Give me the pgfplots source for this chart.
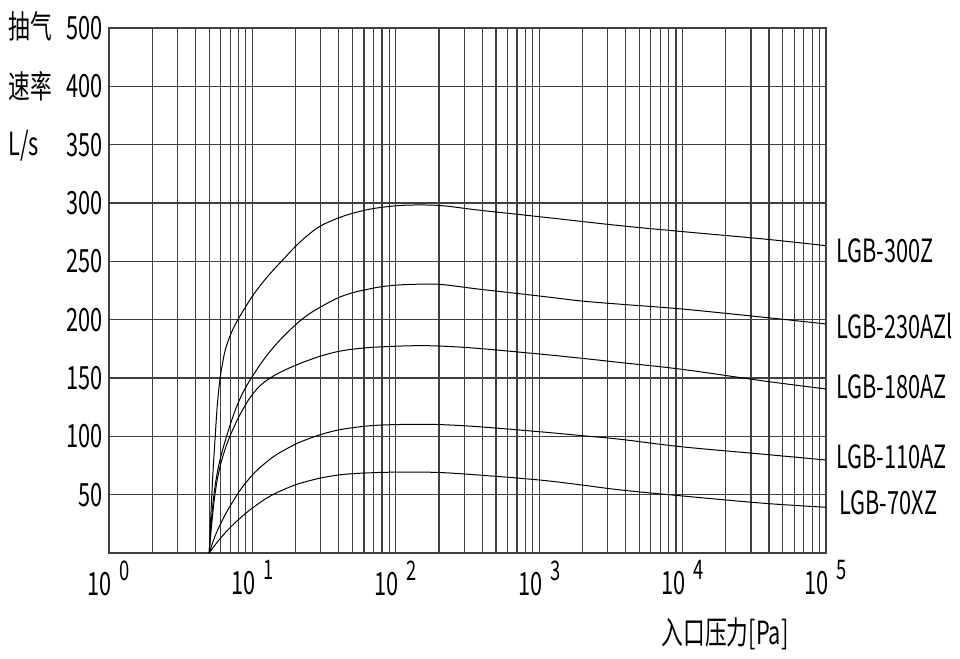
\documentclass[border=0pt]{standalone}
\usepackage{fontspec}
\setmainfont{Noto Sans CJK SC}[FakeStretch=0.68]
\usepackage{pgfplots}
\pgfplotsset{compat=1.18}
\pgfplotsset{curve/.style={black, line width=0.5pt, mark=none, smooth, tension=0.6}}
\newcommand{\tl}[1]{10\hspace{4pt}\raisebox{7.5pt}{\fontsize{13.5}{14}\selectfont #1}}
\begin{document}
\fontsize{16}{18}\selectfont
\begin{tikzpicture}
\useasboundingbox (-54.5pt,-53pt) rectangle (425.5pt,276.5pt);
\begin{axis}[
  at={(0pt,0pt)}, anchor=south west,
  width=358.5pt, height=262.5pt, scale only axis,
  xmode=log, log basis x=10,
  xmin=1, xmax=100000, ymin=0, ymax=450,
  xtick={1,10,100,1000,10000,100000},
  xticklabels={\tl{0},\tl{1},\tl{2},\tl{3},\tl{4},\tl{5}},
  minor xtick={2,3,4,5,6,7,8,9,20,30,40,50,60,70,80,90,200,300,400,500,600,700,800,900,2000,3000,4000,5000,6000,7000,8000,9000,20000,30000,40000,50000,60000,70000,80000,90000},
  ytick={50,100,150,200,250,300,350,400,450},
  yticklabels={50,100,150,200,250,300,350,400,500},
  xmajorgrids, xminorgrids, ymajorgrids,
  major tick length=0pt, minor tick length=0pt,
  grid style={black!75, line width=0.6pt},
  minor grid style={black!75, line width=0.6pt},
  major grid style={black!75, line width=0.6pt},
  axis line style={black!75, line width=0.6pt},
  tick label style={font=\fontsize{16}{18}\selectfont},
  yticklabel style={anchor=east, inner sep=0pt, xshift=-3pt},
  xticklabel style={anchor=north, inner sep=0pt, yshift=-3.5pt},
  clip=false,
]
% LGB-300Z
\addplot[curve] coordinates {
 (5,0) (5.163,39.4) (5.332,72.9) (5.506,100) (5.686,126) (5.919,147.4)
 (6.162,161.1) (6.466,174) (6.896,184.3) (7.354,192.4) (7.927,200)
 (8.771,209.1) (10.297,222.4) (12.691,236.6) (15.938,250) (20.442,264)
 (24.904,273.4) (30.052,280.5) (38.861,286.7) (50,291.2) (65.28,294.6)
 (80.03,296.3) (102.97,297.7) (136.6,298.3) (209.8,297.7) (372.5,294)
 (996.8,288.3) (3719,280.5) (9952,275.5) (37130,269.1) (100000,263.4)};
% LGB-230AZ
\addplot[curve] coordinates {
 (5,0) (5.163,25.7) (5.392,50) (5.686,68.6) (6.063,84) (6.720,102.9)
 (7.470,120) (8.359,134.6) (9.353,145.7) (10.464,155.1) (11.656,163.7)
 (13.528,174) (16.067,184.3) (20.442,196.7) (24.904,204.9) (30.052,211)
 (38.861,218.3) (50,223.1) (65.28,226.3) (80.03,228.3) (102.97,229.7)
 (145.68,230.4) (209.8,230.1) (372.5,226.3) (996.8,220.3) (1979,216)
 (3719,213.2) (9952,209.1) (37130,202) (100000,196.3)};
% LGB-180AZ
\addplot[curve] coordinates {
 (5,0) (5.163,20.6) (5.480,50) (5.871,71.1) (6.362,86.6) (6.938,99.4)
 (7.839,114) (8.771,125.1) (9.658,133.3) (11.161,142.7) (13.313,150)
 (16.067,155.6) (20.442,161.4) (24.904,165.4) (30.052,168.9) (38.861,172.5)
 (50,174.7) (65.28,176.1) (80.03,176.7) (102.97,177.3) (145.68,177.7)
 (209.8,177.3) (372.5,175.4) (996.8,170.6) (1979,166.9) (3719,163.2)
 (9952,157.4) (37130,147.4) (100000,140.6)};
% LGB-110AZ
\addplot[curve] coordinates {
 (5,0) (5.332,10.3) (5.686,18.9) (6.131,27.4) (6.677,36) (7.351,44.6)
 (8.094,52.7) (9.204,61.7) (10.464,69.4) (12.290,77.1) (14.426,83.6)
 (17.218,89.1) (20.442,93.9) (24.904,98.1) (30.052,101.6) (38.861,105.2)
 (50,107.4) (65.28,109) (80.03,109.7) (102.97,110.1) (145.68,110.3)
 (209.8,110) (372.5,108.3) (996.8,104) (1979,100.6) (3719,97.4)
 (9952,91) (37130,84.6) (100000,79.7)};
% LGB-70XZ
\addplot[curve] coordinates {
 (5,0) (5.418,6) (6.131,14.1) (6.896,21) (8.017,28.7) (9.204,35.1)
 (10.464,40.3) (12.290,46.3) (14.426,51) (17.218,55.3) (20.442,58.9)
 (24.904,61.9) (30.052,64.3) (38.861,66.7) (50,68) (65.28,68.7)
 (80.03,69.1) (102.97,69.3) (145.68,69.3) (209.8,68.9) (372.5,66.9)
 (996.8,62.6) (1979,58.3) (3719,54) (9952,48.9) (37130,42.6) (100000,39.2)};
\end{axis}
\begin{scope}[every node/.style={inner sep=0pt, anchor=west, font=\fontsize{16}{18}\selectfont}]
\node at (-50.5pt,263.5pt) {抽气};
\node at (-50.5pt,233.5pt) {速率};
\node at (-50.5pt,203.5pt) {L/s};
\node at (363.5pt,151pt) {LGB-300Z};
\node at (363.5pt,113.5pt) {LGB-230AZl};
\node at (363.5pt,83pt) {LGB-180AZ};
\node at (363.5pt,48pt) {LGB-110AZ};
\node at (365pt,25pt) {LGB-70XZ};
\node[anchor=center] at (308pt,-40.5pt) {入口压力[Pa]};
\end{scope}
\end{tikzpicture}
\end{document}
